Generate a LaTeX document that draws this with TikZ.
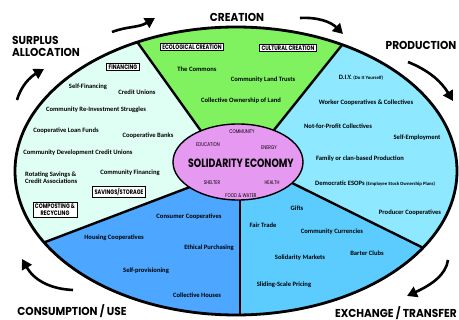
\documentclass[tikz,border=0pt]{standalone}
\usepackage{fontspec}
\setmainfont{Carlito}
\newfontfamily\headfont[FakeStretch=0.92]{Poppins}
\newfontfamily\tagfont[FakeStretch=0.78]{Poppins}
\usetikzlibrary{arrows.meta}

\definecolor{surplus}{RGB}{224,255,244}
\definecolor{creation}{RGB}{128,242,96}
\definecolor{production}{RGB}{142,232,255}
\definecolor{exchange}{RGB}{92,204,255}
\definecolor{consumption}{RGB}{77,166,255}
\definecolor{hub}{RGB}{230,153,240}

\tikzset{
  item/.style={font=\fontsize{6.6}{7.4}\selectfont\bfseries, align=center, inner sep=0pt},
  stage/.style={font=\headfont\fontsize{11.5}{12}\selectfont\bfseries, inner sep=0pt, align=left},
  tagbox/.style={draw, fill=white, line width=0.7pt, font=\tagfont\fontsize{6.5}{7}\selectfont\bfseries,
    inner xsep=2pt, inner ysep=1.5pt, align=center},
  need/.style={font=\tagfont\fontsize{5.4}{5.4}\selectfont, inner sep=0pt},
  turn/.style={line width=2.6pt, -{Triangle[length=10pt,width=11pt]}},
  divider/.style={line width=2.4pt},
}

\begin{document}
\begin{tikzpicture}[x=1pt,y=-1pt]
\useasboundingbox (0,0) rectangle (459,320);

% Coordinates of the borders
\coordinate (O) at (238,162);
\coordinate (tl) at (201,131);
\coordinate (TL) at (100,-10);
\coordinate (tr) at (274,130);
\coordinate (TR) at (386,-10);
\coordinate (rl) at (292,183);
\coordinate (RL) at (480,276);
\coordinate (b) at (240,199);
\coordinate (B) at (240,340);
\coordinate (ll) at (190,187);
\coordinate (LL) at (-10,263);

% The sectors
\begin{scope}
  \clip (236,171) ellipse [x radius=221, y radius=144];
  \fill[surplus] (-10,-10) rectangle (480,340);
  \fill[creation] (O) -- (tl) -- (TL) -- (TR) -- (tr) -- cycle;
  \fill[production] (O) -- (tr) -- (TR) -- (480,-10) -- (RL) -- (rl) -- cycle;
  \fill[exchange] (O) -- (rl) -- (RL) -- (480,340) -- (B) -- (b) -- cycle;
  \fill[consumption] (O) -- (b) -- (B) -- (-10,340) -- (LL) -- (ll) -- cycle;
  \draw[divider] (tl) -- (TL);
  \draw[divider] (tr) -- (TR);
  \draw[divider] (rl) -- (RL);
  \draw[divider] (b) -- (B);
  \draw[divider] (ll) -- (LL);
\end{scope}
\draw[line width=2.8pt] (236,171) ellipse [x radius=221, y radius=144];

% The hub
\draw[fill=hub, line width=1.4pt] (O) ellipse [x radius=65, y radius=38];
\node[need] (community) at (242,132) {COMMUNITY};
\node[need] (education) at (208,145) {EDUCATION};
\node[need] (energy) at (269,148) {ENERGY};
\node[font=\tagfont\fontsize{12}{12}\selectfont\bfseries, inner sep=0pt] (se) at (241,163) {SOLIDARITY ECONOMY};
\node[need] (shelter) at (212,183) {SHELTER};
\node[need] (health) at (272,183) {HEALTH};
\node[need] (food) at (241,196) {FOOD \& WATER};

% Surplus allocation
\node[tagbox] (financing) at (123,67) {FINANCING};
\node[item] (selffin) at (88,87) {Self-Financing};
\node[item] (cu) at (137,92) {Credit Unions};
\node[item] (reinvest) at (96,110) {Community Re-Investment Struggles};
\node[item] (loan) at (66,131) {Cooperative Loan Funds};
\node[item] (banks) at (148,136) {Cooperative Banks};
\node[item] (cdcu) at (78,153) {Community Development Credit Unions};
\node[item, anchor=west, align=left] (rosca) at (25,178) {Rotating Savings \&\\Credit Associations};
\node[item] (cfin) at (130,173) {Community Financing};
\node[tagbox] (savings) at (119,192) {SAVINGS/STORAGE};
\node[tagbox] (compost) at (55,210) {COMPOSTING \&\\RECYCLING};

% Creation
\node[tagbox] (eco) at (192,47) {ECOLOGICAL CREATION};
\node[tagbox] (cult) at (288,48) {CULTURAL CREATION};
\node[item] (commons) at (197,69) {The Commons};
\node[item] (clt) at (263,80) {Community Land Trusts};
\node[item] (land) at (241,101) {Collective Ownership of Land};

% Production
\node[item] (diy) at (361,78) {D.I.Y. {\fontsize{4.8}{5}\selectfont(Do It Yourself)}};
\node[item] (worker) at (366,103) {Worker Cooperatives \& Collectives};
\node[item] (nfp) at (338,126) {Not-for-Profit Collectives};
\node[item] (selfemp) at (417,138) {Self-Employment};
\node[item] (family) at (360,159) {Family or clan-based Production};
\node[item, anchor=west] (esop) at (315,184) {Democratic ESOPs {\fontsize{4.8}{5}\selectfont(Employee Stock Ownership Plans)}};
\node[item] (producer) at (410,213) {Producer Cooperatives};

% Exchange
\node[item] (gifts) at (297,208) {Gifts};
\node[item] (fair) at (263,225) {Fair Trade};
\node[item] (currency) at (332,232) {Community Currencies};
\node[item] (barter) at (367,253) {Barter Clubs};
\node[item] (markets) at (300,258) {Solidarity Markets};
\node[item] (sliding) at (284,285) {Sliding-Scale Pricing};

% Consumption
\node[item] (consumer) at (189,217) {Consumer Cooperatives};
\node[item] (housing) at (114,238) {Housing Cooperatives};
\node[item] (ethical) at (209,248) {Ethical Purchasing};
\node[item] (selfprov) at (146,271) {Self-provisioning};
\node[item] (houses) at (197,295) {Collective Houses};

% The stages
\node[stage] (creat) at (237,17) {CREATION};
\node[stage] (prod) at (421,45) {PRODUCTION};
\node[stage, anchor=west] (surp) at (12,46) {SURPLUS\\ALLOCATION};
\node[stage] (cons) at (72,311) {CONSUMPTION / USE};
\node[stage, anchor=east] (exch) at (457,313) {EXCHANGE / TRANSFER};

% The arrows
\coordinate (t1a) at (17,100);  \coordinate (t1b) at (44,69);
\coordinate (t2a) at (112,32);  \coordinate (t2b) at (155,18);
\coordinate (t3a) at (300,18);  \coordinate (t3b) at (343,34);
\coordinate (t4a) at (408,62);  \coordinate (t4b) at (453,101);
\coordinate (t5a) at (448,260); \coordinate (t5b) at (407,296);
\coordinate (t6a) at (73,290);  \coordinate (t6b) at (22,259);
\draw[turn] (t1a) .. controls (21,86) and (30,77) .. (t1b);
\draw[turn] (t2a) .. controls (128,26) and (138,28) .. (t2b);
\draw[turn] (t3a) .. controls (318,17) and (331,22) .. (t3b);
\draw[turn] (t4a) .. controls (428,70) and (441,81) .. (t4b);
\draw[turn] (t5a) .. controls (446,275) and (431,285) .. (t5b);
\draw[turn] (t6a) .. controls (50,289) and (34,280) .. (t6b);
\end{tikzpicture}
\end{document}
